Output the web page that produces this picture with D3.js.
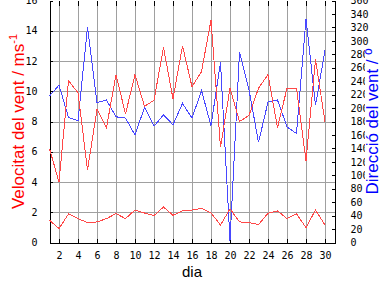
<!DOCTYPE html>
<html>
<head>
<meta charset="utf-8">
<script src="https://cdn.jsdelivr.net/npm/d3@7"></script>
<style>
  body { margin: 0; background: #fff; }
  svg { display: block; }
  .tick-label { font-family: "DejaVu Sans Mono", monospace; font-size: 10px; fill: #000; }
</style>
</head>
<body>
<div id="chart"></div>
<script>
// days of the month
const days = d3.range(1, 31);
// maximum wind speed (m/s)
const speedMax = [6.2, 4.0, 10.7, 9.9, 4.8, 8.8, 7.6, 11.1, 8.5, 11.1,
  9.0, 9.4, 12.9, 9.5, 13.0, 10.3, 11.3, 14.7, 6.3, 10.2,
  8.0, 8.4, 10.2, 11.1, 7.6, 10.2, 10.2, 5.4, 12.1, 8.0];
// mean wind speed (m/s)
const speedMean = [1.47, 0.92, 1.89, 1.58, 1.32, 1.36, 1.58, 1.91, 1.58, 2.15,
  1.95, 1.78, 2.35, 1.8, 2.1, 2.15, 2.26, 1.95, 1.16, 2.22,
  1.36, 1.32, 1.18, 1.93, 2.09, 1.58, 1.89, 0.99, 2.15, 1.16];
// wind direction (degrees)
const direction = [218, 234, 186, 181, 320, 208, 212, 187, 185, 160,
  201, 173, 190, 175, 207, 185, 226, 174, 268, 3,
  283, 227, 149, 209, 212, 172, 162, 333, 204, 286];

const speedTicks = d3.range(0, 17, 2);
const dirTicks = d3.range(0, 361, 20);
const dayTicks = d3.range(2, 31, 2);

const width = 384, height = 288;

const svg = d3.select('#chart')
  .append('svg')
  .attr('width', width)
  .attr('height', height);

const x = d3.scaleLinear().domain([1, 31]).range([49.5, 334.5]);
const y = d3.scaleLinear().domain([0, 16]).range([242.5, 0.5]);
const yDir = d3.scaleLinear().domain([0, 360]).range([242.5, 0.5]);

const grid = svg.append('g')
  .attr('stroke', '#a0a0a0')
  .attr('shape-rendering', 'crispEdges');

// vertical grid on even days
grid.selectAll('line.v')
  .data(dayTicks).enter()
  .append('line')
  .attr('x1', d => Math.round(x(d)) + 0.5)
  .attr('x2', d => Math.round(x(d)) + 0.5)
  .attr('y1', y(16))
  .attr('y2', y(0));

// horizontal grid on speed ticks
grid.selectAll('line.h')
  .data(speedTicks.slice(1, -1)).enter()
  .append('line')
  .attr('x1', x(1))
  .attr('x2', x(31))
  .attr('y1', d => Math.round(y(d)) + 0.5)
  .attr('y2', d => Math.round(y(d)) + 0.5);

// left axis: ticks inside
const leftAxis = d3.axisLeft(y).tickValues(speedTicks).tickSize(-3).tickPadding(12);
const gl = svg.append('g').attr('transform', `translate(${x(1)},0)`).call(leftAxis);

// right axis: ticks inside
const rightAxis = d3.axisRight(yDir).tickValues(dirTicks).tickSize(-3).tickPadding(16);
const gr = svg.append('g').attr('transform', `translate(${x(31)},0)`).call(rightAxis);

// bottom axis: ticks pointing up
const bottomAxis = d3.axisBottom(x).tickValues(dayTicks).tickSize(-4).tickPadding(9);
const gb = svg.append('g').attr('transform', `translate(0,${y(0)})`).call(bottomAxis);

// top ticks pointing down
const topAxis = d3.axisTop(x).tickValues(dayTicks).tickSize(-5).tickFormat('');
const gt = svg.append('g').attr('transform', `translate(0,${y(16)})`).call(topAxis);
gt.select('.domain').remove();

[gl, gr, gb, gt].forEach(g => {
  g.attr('shape-rendering', 'crispEdges');
  g.selectAll('path, line').attr('stroke', '#000');
  g.selectAll('text').attr('class', 'tick-label').attr('font-family', null).attr('font-size', null);
});
gl.selectAll('.tick text').attr('dx', 0);

// series lines
const lineSpeed = d3.line().x((d, i) => x(days[i])).y(d => y(d));
const lineDir = d3.line().x((d, i) => x(days[i])).y(d => yDir(d));

svg.append('path').datum(direction)
  .attr('fill', 'none').attr('stroke', '#4848ff').attr('stroke-width', 1)
  .attr('shape-rendering', 'crispEdges')
  .attr('d', lineDir);

svg.append('path').datum(speedMax)
  .attr('fill', 'none').attr('stroke', '#ff4848').attr('stroke-width', 1)
  .attr('shape-rendering', 'crispEdges')
  .attr('d', lineSpeed);

svg.append('path').datum(speedMean)
  .attr('fill', 'none').attr('stroke', '#ff4848').attr('stroke-width', 1)
  .attr('shape-rendering', 'crispEdges')
  .attr('d', lineSpeed);

// axis titles
const midY = (y(0) + y(16)) / 2;

const leftTitle = svg.append('text')
  .attr('transform', `translate(24,${midY}) rotate(-90)`)
  .attr('text-anchor', 'middle')
  .attr('font-family', 'Liberation Sans, Arial, sans-serif')
  .attr('font-size', 17)
  .attr('fill', '#ff0000');
leftTitle.append('tspan').text('Velocitat del vent / ms');
leftTitle.append('tspan').attr('dy', -7).attr('font-size', 11).text('-1');

const rightG = svg.append('g').attr('transform', `translate(378,${midY}) rotate(-90)`);
const rightTitle = rightG.append('text')
  .attr('text-anchor', 'middle')
  .attr('font-family', 'Liberation Sans, Arial, sans-serif')
  .attr('font-size', 17)
  .attr('fill', '#0000ff')
  .text('Direcció del vent / º');
const bb = rightTitle.node().getBBox();
rightG.insert('rect', 'text')
  .attr('x', bb.x).attr('y', bb.y + 2)
  .attr('width', bb.width).attr('height', bb.height - 2)
  .attr('fill', '#fff');

svg.append('text')
  .attr('x', (x(1) + x(31)) / 2)
  .attr('y', 277)
  .attr('text-anchor', 'middle')
  .attr('font-family', 'Liberation Sans, Arial, sans-serif')
  .attr('font-size', 15)
  .attr('fill', '#000')
  .text('dia');
</script>
</body>
</html>
